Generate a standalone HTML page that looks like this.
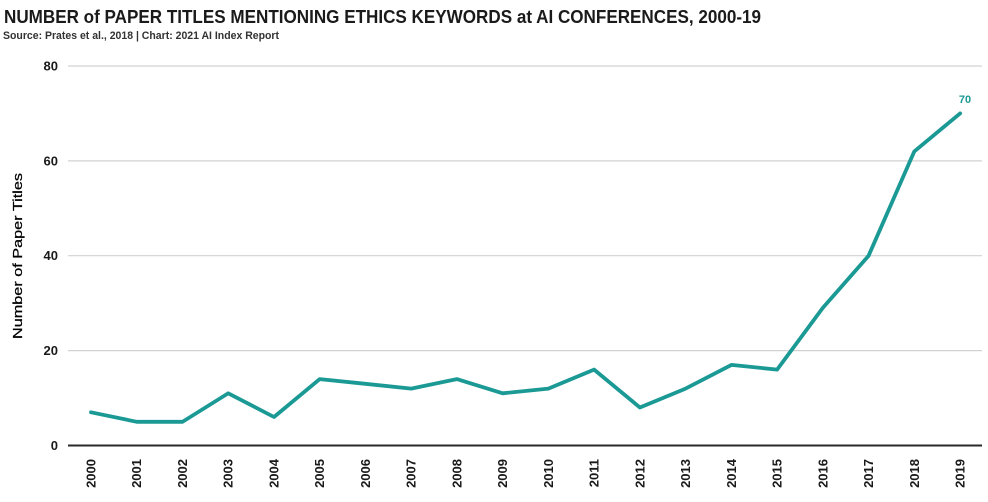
<!DOCTYPE html>
<html><head><meta charset="utf-8"><style>
html,body{margin:0;padding:0;background:#fff;}
svg{display:block;}
text{font-family:"Liberation Sans",Arial,sans-serif;}
</style></head><body>
<svg width="988" height="502" viewBox="0 0 988 502" xmlns="http://www.w3.org/2000/svg">
<rect width="988" height="502" fill="#fff"/>
<text x="4" y="23" font-size="18" font-weight="bold" fill="#1a1a1a" textLength="757" lengthAdjust="spacingAndGlyphs">NUMBER of PAPER TITLES MENTIONING ETHICS KEYWORDS at AI CONFERENCES, 2000-19</text>
<text x="3" y="39" font-size="11" font-weight="bold" fill="#333" textLength="276" lengthAdjust="spacingAndGlyphs">Source: Prates et al., 2018 | Chart: 2021 AI Index Report</text>

<g stroke="#d2d2d2" stroke-width="1.2">
<line x1="68" x2="982" y1="66" y2="66"/>
<line x1="68" x2="982" y1="160.9" y2="160.9"/>
<line x1="68" x2="982" y1="255.7" y2="255.7"/>
<line x1="68" x2="982" y1="350.6" y2="350.6"/>
</g>
<line x1="68" x2="982" y1="445.5" y2="445.5" stroke="#2a2a2a" stroke-width="2"/>

<g font-size="13" font-weight="bold" fill="#1a1a1a" text-anchor="end">
<text x="58" y="70.5">80</text>
<text x="58" y="165.4">60</text>
<text x="58" y="260.2">40</text>
<text x="58" y="355.1">20</text>
<text x="58" y="450">0</text>
</g>

<text transform="translate(22,256) rotate(-90)" font-size="13" fill="#000" stroke="#000" stroke-width="0.25" text-anchor="middle" textLength="166" lengthAdjust="spacingAndGlyphs">Number of Paper Titles</text>

<polyline fill="none" stroke="#1b9994" stroke-width="3.8" stroke-linejoin="round" stroke-linecap="round"
points="91.0,412.3 136.7,421.8 182.5,421.8 228.2,393.3 274.0,417.0 319.7,379.1 365.4,383.8 411.2,388.6 456.9,379.1 502.7,393.3 548.4,388.6 594.1,369.6 639.9,407.5 685.6,388.6 731.4,364.9 777.1,369.6 822.8,307.9 868.6,255.7 914.3,151.4 960.1,113.4"/>

<text x="965" y="103" font-size="11" font-weight="bold" fill="#1b9994" text-anchor="middle">70</text>

<g font-size="13" font-weight="bold" fill="#1a1a1a" text-anchor="end">
<text transform="translate(95.5,459) rotate(-90)">2000</text>
<text transform="translate(141.2,459) rotate(-90)">2001</text>
<text transform="translate(187,459) rotate(-90)">2002</text>
<text transform="translate(232.7,459) rotate(-90)">2003</text>
<text transform="translate(278.5,459) rotate(-90)">2004</text>
<text transform="translate(324.2,459) rotate(-90)">2005</text>
<text transform="translate(369.9,459) rotate(-90)">2006</text>
<text transform="translate(415.7,459) rotate(-90)">2007</text>
<text transform="translate(461.4,459) rotate(-90)">2008</text>
<text transform="translate(507.2,459) rotate(-90)">2009</text>
<text transform="translate(552.9,459) rotate(-90)">2010</text>
<text transform="translate(598.6,459) rotate(-90)">2011</text>
<text transform="translate(644.4,459) rotate(-90)">2012</text>
<text transform="translate(690.1,459) rotate(-90)">2013</text>
<text transform="translate(735.9,459) rotate(-90)">2014</text>
<text transform="translate(781.6,459) rotate(-90)">2015</text>
<text transform="translate(827.3,459) rotate(-90)">2016</text>
<text transform="translate(873.1,459) rotate(-90)">2017</text>
<text transform="translate(918.8,459) rotate(-90)">2018</text>
<text transform="translate(964.6,459) rotate(-90)">2019</text>
</g>
</svg>
</body></html>
